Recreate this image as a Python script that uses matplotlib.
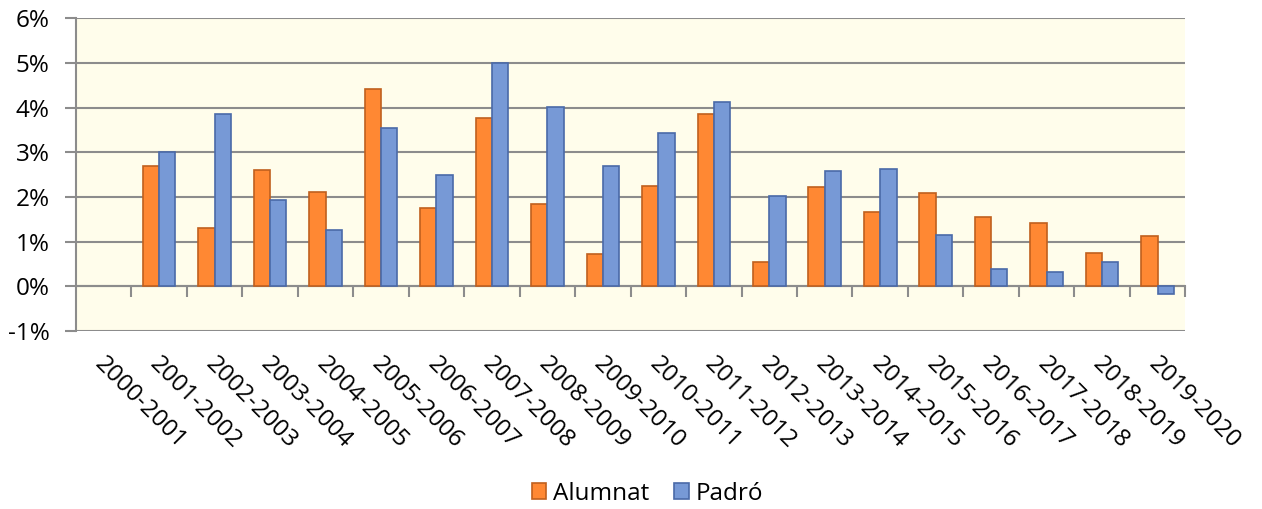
import matplotlib.pyplot as plt
import numpy as np

plt.rcParams['font.family'] = ['Open Sans', 'DejaVu Sans']

# Curs acadèmic i creixement anual (%)
cursos = ['2000-2001', '2001-2002', '2002-2003', '2003-2004', '2004-2005',
          '2005-2006', '2006-2007', '2007-2008', '2008-2009', '2009-2010',
          '2010-2011', '2011-2012', '2012-2013', '2013-2014', '2014-2015',
          '2015-2016', '2016-2017', '2017-2018', '2018-2019', '2019-2020']
alumnat = [np.nan, 2.69, 1.31, 2.60, 2.12, 4.43, 1.75, 3.76, 1.85, 0.72,
           2.25, 3.86, 0.54, 2.22, 1.67, 2.10, 1.55, 1.41, 0.74, 1.13]
padro = [np.nan, 3.00, 3.85, 1.94, 1.26, 3.54, 2.50, 5.00, 4.01, 2.70,
         3.43, 4.13, 2.03, 2.59, 2.63, 1.14, 0.38, 0.33, 0.55, -0.18]
y_ticks = [-1, 0, 1, 2, 3, 4, 5, 6]

grey = '#8c8c8c'
fs = 17.5
x = np.arange(len(cursos))
w = 0.294

fig = plt.figure(figsize=(12.62, 5.09), dpi=100)
ax = fig.add_axes([0.0602, 0.3497, 0.879, 0.614])
ax.set_facecolor('#fffdeb')

ax.bar(x - w / 2, alumnat, w, color='#ff8833', edgecolor='#c0601e', linewidth=1.2,
       label='Alumnat', zorder=3)
ax.bar(x + w / 2, padro, w, color='#7799d6', edgecolor='#4a6aa8', linewidth=1.2,
       label='Padró', zorder=3)

ax.set_xlim(-0.5, len(cursos) - 0.5)
ax.set_ylim(-1, 6)
ax.set_yticks(y_ticks)
ax.set_yticklabels([f'{v}%' for v in y_ticks], fontsize=fs)
ax.grid(axis='y', color=grey, linewidth=1.5, zorder=1)
ax.tick_params(axis='y', length=8, width=1.5, color=grey, pad=11)

# eix x a 0 amb marques entre categories
ax.spines['bottom'].set_position(('data', 0))
ax.spines['bottom'].set_color(grey)
ax.spines['bottom'].set_linewidth(1.5)
ax.spines['bottom'].set_zorder(2)
ax.set_xticks(np.arange(0.5, len(cursos), 1))
ax.set_xticklabels([])
ax.tick_params(axis='x', length=8, width=1.5, color=grey, direction='out')
ax.spines['left'].set_color(grey)
ax.spines['left'].set_linewidth(1.5)
ax.spines['top'].set_visible(False)
ax.spines['right'].set_visible(False)

for xi, lab in zip(x, cursos):
    ax.annotate(lab, xy=(xi, 0), xycoords=('data', 'axes fraction'),
                xytext=(2, -15), textcoords='offset points',
                rotation=-45, rotation_mode='anchor', ha='left', va='top',
                fontsize=fs)

fig.legend(loc='center', bbox_to_anchor=(0.513, 0.03), ncol=2, frameon=False,
           fontsize=fs, handlelength=0.6, handleheight=0.6,
           handletextpad=0.3, columnspacing=1.0)

fig.savefig('out.png', dpi=100)
